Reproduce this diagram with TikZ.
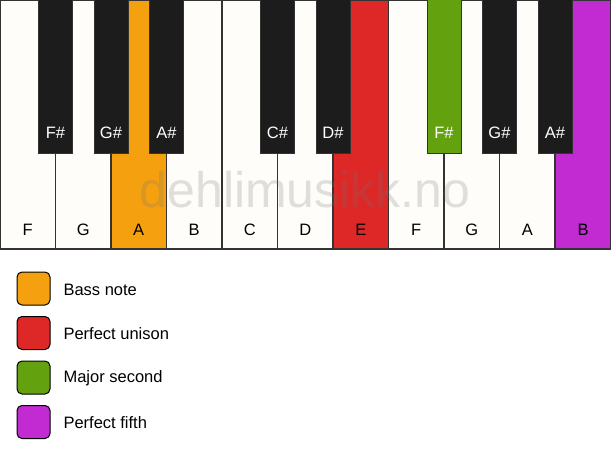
\documentclass[tikz,border=0pt]{standalone}
\usepackage{fontspec}
\setmainfont{Liberation Sans}
\usepackage{xcolor}
\usetikzlibrary{positioning}

\definecolor{keywhite}{HTML}{FFFDF9}
\definecolor{keyblack}{HTML}{1C1C1C}
\definecolor{keyedge}{HTML}{333333}
\definecolor{bassorange}{HTML}{F5A00F}
\definecolor{unisonred}{HTML}{DE2828}
\definecolor{secondgreen}{HTML}{63A10F}
\definecolor{fifthpurple}{HTML}{C22AD2}

\begin{document}
\begin{tikzpicture}[x=1pt,y=-1pt,
        whitekey/.style={draw=keyedge, line width=1.3pt, fill=keywhite},
        blackkey/.style={draw=keyedge, line width=1pt, fill=keyblack},
        wlabel/.style={text centered, font={\fontsize{16.5}{19}\selectfont}, text=black},
        blabel/.style={text centered, font={\fontsize{16.5}{19}\selectfont}, text=white},
        legendbox/.style={draw=black, line width=1pt, rounded corners=5pt},
        legendtext/.style={anchor=west, font={\fontsize{16.5}{19}\selectfont}}]
          \useasboundingbox[fill=white] (0,0) rectangle (611,461);

          %draw white keys
          \draw[whitekey] (0,0)     rectangle (55.5,249);
          \draw[whitekey] (55.5,0)  rectangle (111,249);
          \draw[whitekey, fill=bassorange] (111,0) rectangle (166.5,249);
          \draw[whitekey] (166.5,0) rectangle (222,249);
          \draw[whitekey] (222,0)   rectangle (277.5,249);
          \draw[whitekey] (277.5,0) rectangle (333,249);
          \draw[whitekey, fill=unisonred] (333,0) rectangle (388.5,249);
          \draw[whitekey] (388.5,0) rectangle (444,249);
          \draw[whitekey] (444,0)   rectangle (499.5,249);
          \draw[whitekey] (499.5,0) rectangle (555,249);
          \draw[whitekey, fill=fifthpurple] (555,0) rectangle (611,249);

          %white key names
          \node[wlabel] (wF1) at (27.75,230)  {F};
          \node[wlabel] (wG1) at (83.25,230)  {G};
          \node[wlabel] (wA1) at (138.75,230) {A};
          \node[wlabel] (wB1) at (194.25,230) {B};
          \node[wlabel] (wC)  at (249.75,230) {C};
          \node[wlabel] (wD)  at (305.25,230) {D};
          \node[wlabel] (wE)  at (360.75,230) {E};
          \node[wlabel] (wF2) at (416.25,230) {F};
          \node[wlabel] (wG2) at (471.75,230) {G};
          \node[wlabel] (wA2) at (527.25,230) {A};
          \node[wlabel] (wB2) at (583,230)    {B};

          %watermark
          \node[text=black!55, opacity=0.22, font={\fontsize{50}{54}\selectfont}] (mark) at (305,190) {dehlimusikk.no};

          %draw black keys
          \draw[blackkey] (38.5,-1)  rectangle (72.5,153);
          \draw[blackkey] (94,-1)    rectangle (128,153);
          \draw[blackkey] (149.5,-1) rectangle (183.5,153);
          \draw[blackkey] (260.5,-1) rectangle (294.5,153);
          \draw[blackkey] (316,-1)   rectangle (350,153);
          \draw[blackkey, fill=secondgreen] (427,-1) rectangle (461,153);
          \draw[blackkey] (482.5,-1) rectangle (516.5,153);
          \draw[blackkey] (538,-1)   rectangle (572,153);

          %black key names
          \node[blabel] (bF1) at (55.5,133)  {F\#};
          \node[blabel] (bG1) at (111,133)   {G\#};
          \node[blabel] (bA1) at (166.5,133) {A\#};
          \node[blabel] (bC)  at (277.5,133) {C\#};
          \node[blabel] (bD)  at (333,133)   {D\#};
          \node[blabel] (bF2) at (444,133)   {F\#};
          \node[blabel] (bG2) at (499.5,133) {G\#};
          \node[blabel] (bA2) at (555,133)   {A\#};

          %legend
          \draw[legendbox, fill=bassorange]  (17,272) rectangle (50,305);
          \draw[legendbox, fill=unisonred]   (17,316.5) rectangle (50,349.5);
          \draw[legendbox, fill=secondgreen] (17,361) rectangle (50,394);
          \draw[legendbox, fill=fifthpurple] (17,405.5) rectangle (50,438.5);
          \node[legendtext] (lbass)   at (60,289.5) {Bass note};
          \node[legendtext] (lunison) at (60,334)   {Perfect unison};
          \node[legendtext] (lsecond) at (60,378.5) {Major second};
          \node[legendtext] (lfifth)  at (60,423)   {Perfect fifth};
    \end{tikzpicture}
\end{document}
